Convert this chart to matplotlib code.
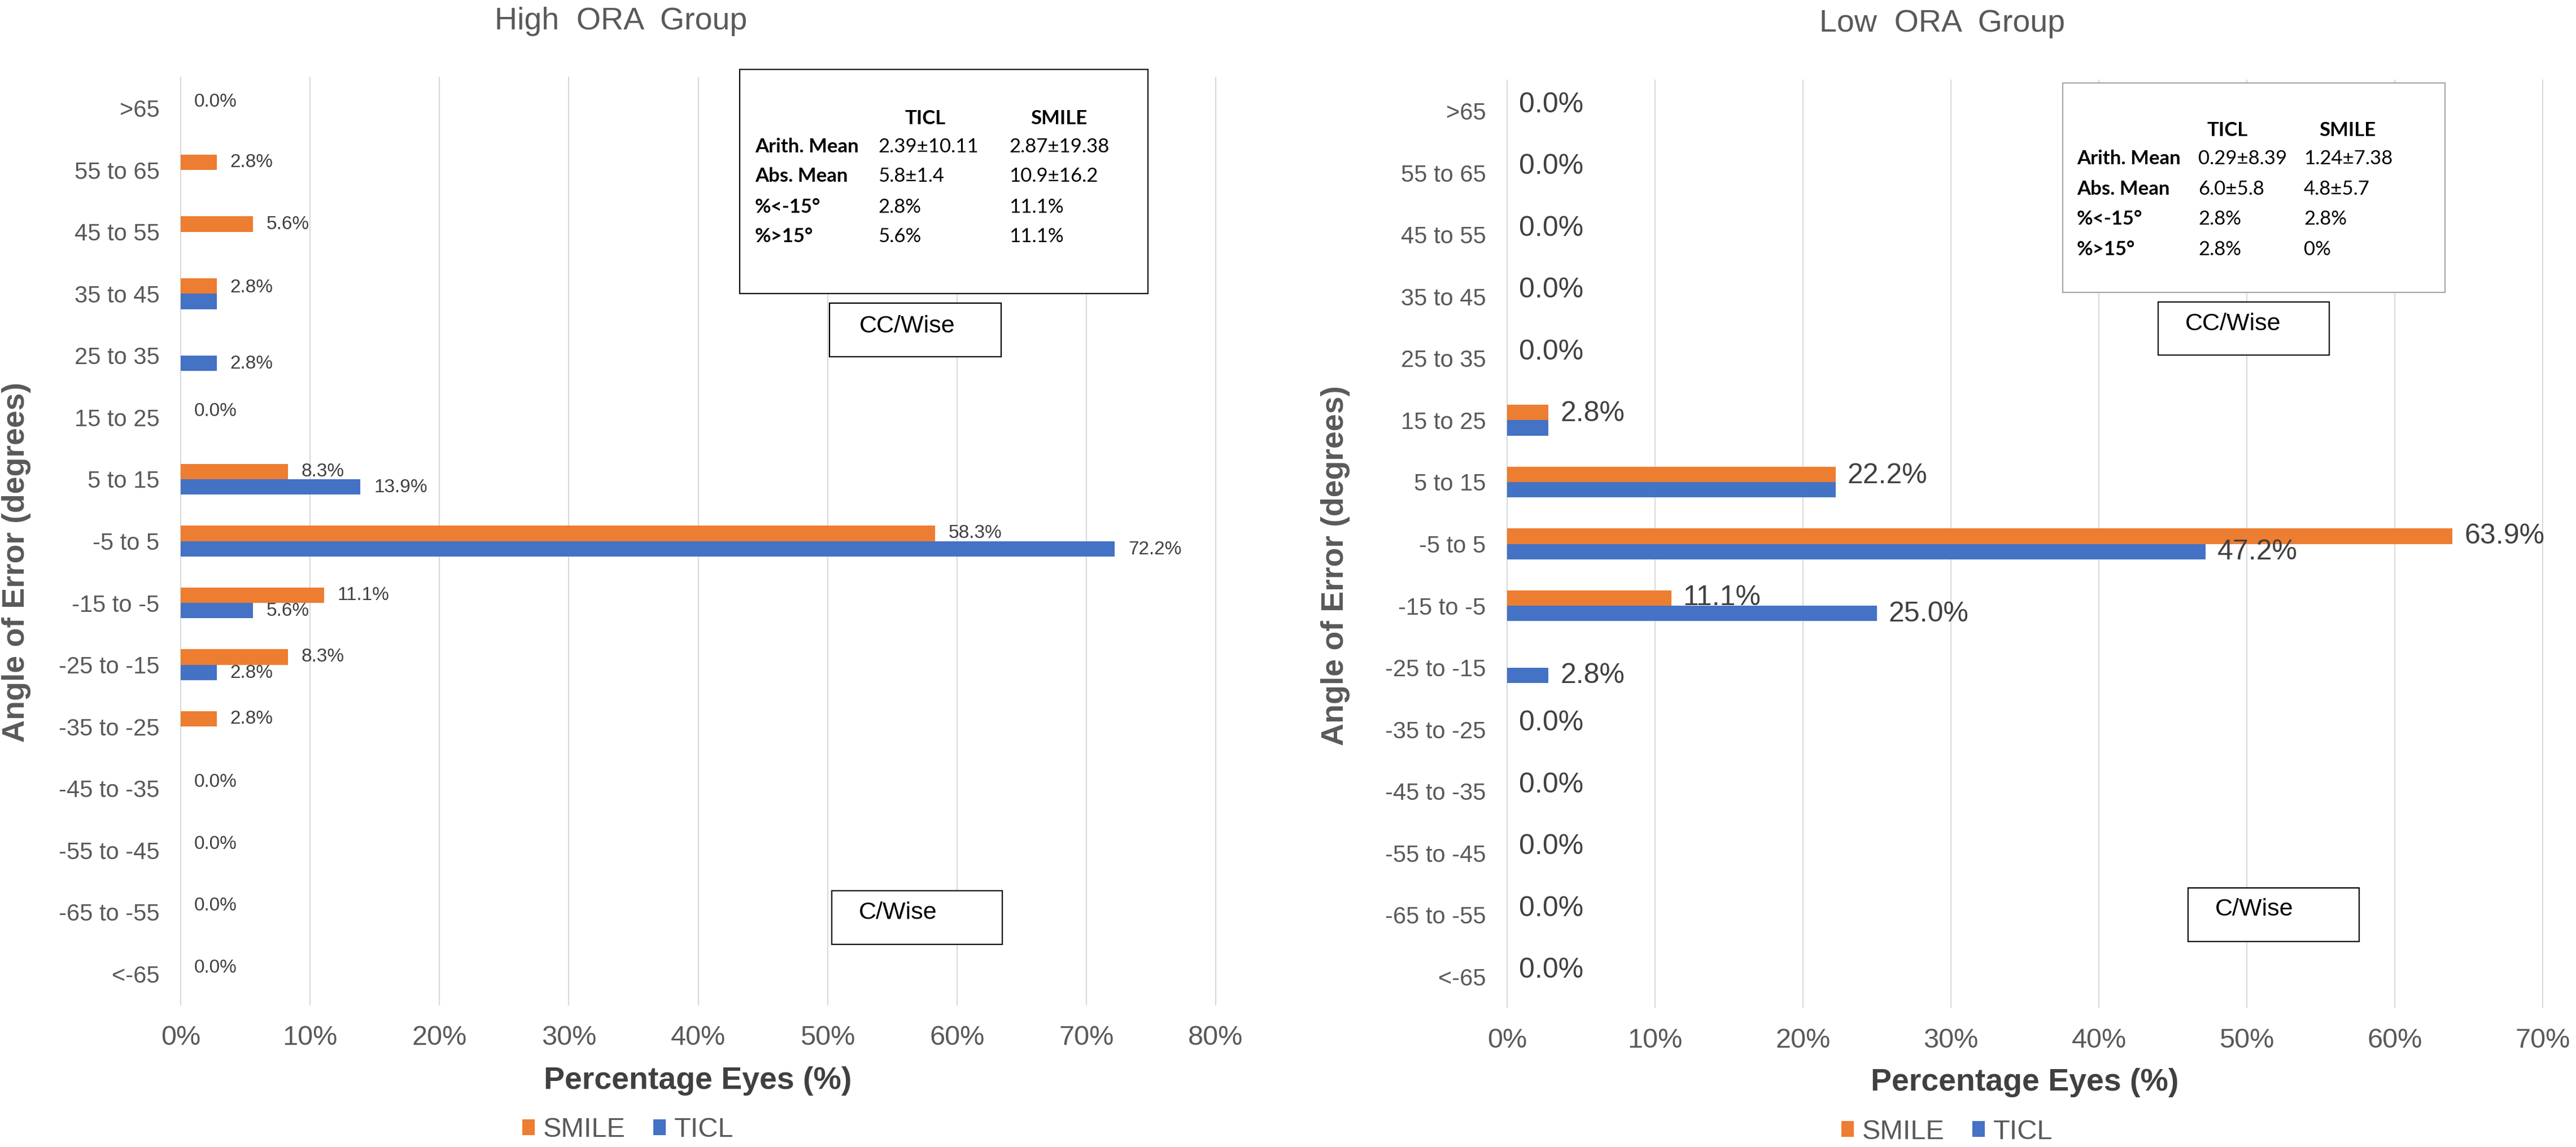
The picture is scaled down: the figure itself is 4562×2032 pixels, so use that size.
import numpy as np
import matplotlib
matplotlib.use("Agg")
from matplotlib import pyplot as plt
from matplotlib.patches import Rectangle

plt.rcParams['font.family'] = ['Liberation Sans', 'DejaVu Sans']

# categories, top to bottom
cats = [">65", "55 to 65", "45 to 55", "35 to 45", "25 to 35", "15 to 25", "5 to 15",
        "-5 to 5", "-15 to -5", "-25 to -15", "-35 to -25", "-45 to -35", "-55 to -45",
        "-65 to -55", "<-65"]

high_smile = [0, 2.8, 5.6, 2.8, 0, 0, 8.3, 58.3, 11.1, 8.3, 2.8, 0, 0, 0, 0]
high_ticl = [0, 0, 0, 2.8, 2.8, 0, 13.9, 72.2, 5.6, 2.8, 0, 0, 0, 0, 0]
low_smile = [0, 0, 0, 0, 0, 2.8, 22.2, 63.9, 11.1, 0, 0, 0, 0, 0, 0]
low_ticl = [0, 0, 0, 0, 0, 2.8, 22.2, 47.2, 25.0, 2.8, 0, 0, 0, 0, 0]

stat_rows = ["Arith. Mean", "Abs. Mean", "%<-15°", "%>15°"]
high_ticl_stats = ["2.39±10.11", "5.8±1.4", "2.8%", "5.6%"]
high_smile_stats = ["2.87±19.38", "10.9±16.2", "11.1%", "11.1%"]
low_ticl_stats = ["0.29±8.39", "6.0±5.8", "2.8%", "2.8%"]
low_smile_stats = ["1.24±7.38", "4.8±5.7", "2.8%", "0%"]

ORANGE = "#ED7D31"
BLUE = "#4472C4"
GRID = "#D9D9D9"
TXT = "#595959"

W, H = 4562, 2032
fig = plt.figure(figsize=(W / 100, H / 100), dpi=100)


def fx(px):
    return px / W


def fy(py):
    return 1 - py / H


def panel(box, smile, ticl, xmax, lab_size, lab_off):
    x0, y0, x1, y1 = box
    ax = fig.add_axes([fx(x0), fy(y1), (x1 - x0) / W, (y1 - y0) / H])
    y = np.arange(len(cats))
    ax.barh(y - 0.125, smile, height=0.25, color=ORANGE, linewidth=0,
            label="SMILE", zorder=3)
    ax.barh(y + 0.125, ticl, height=0.25, color=BLUE, linewidth=0,
            label="TICL", zorder=3)
    ax.set_yticks(y, cats)
    ax.set_ylim(len(cats) - 0.5, -0.5)
    ax.set_xlim(0, xmax)
    ticks = np.arange(0, xmax + 1, 10)
    ax.set_xticks(ticks, [f"{t}%" for t in ticks])
    ax.grid(axis="x", color=GRID, linewidth=1.5, zorder=0)
    ax.set_axisbelow(True)
    for s in ax.spines.values():
        s.set_visible(False)
    ax.tick_params(axis="y", length=0, pad=27, labelsize=30, labelcolor=TXT)
    ax.tick_params(axis="x", length=0, pad=26, labelsize=35, labelcolor=TXT)
    for g in ax.get_xgridlines():
        g.set_clip_on(False)

    for i, (s, t) in enumerate(zip(smile, ticl)):
        kw = dict(xytext=(lab_off, 0), textcoords="offset points", va="center",
                  ha="left", fontsize=lab_size, color="#404040", zorder=4)
        if s == t:
            ax.annotate(f"{s:.1f}%", (s, i - 0.1), **kw)
        else:
            if s > 0:
                ax.annotate(f"{s:.1f}%", (s, i - 0.125), **kw)
            if t > 0:
                ax.annotate(f"{t:.1f}%", (t, i + 0.135), **kw)
    return ax


def label_box(x0, y0, x1, y1, text, tx, ty, edge="black"):
    fig.add_artist(Rectangle((fx(x0), fy(y1)), (x1 - x0) / W, (y1 - y0) / H,
                             transform=fig.transFigure, facecolor="white",
                             edgecolor=edge, linewidth=1.6, zorder=5))
    if text:
        fig.text(fx(tx), fy(ty), text, fontsize=31, ha="left", va="center",
                 color="black", zorder=6)


def stats_box(box, edge, head_x, head_y, row_x, row_ys, col1_x, col2_x, ticl_s, smile_s):
    x0, y0, x1, y1 = box
    label_box(x0, y0, x1, y1, None, 0, 0, edge=edge)
    sf = ['Lato', 'DejaVu Sans']
    fig.text(fx(head_x[0]), fy(head_y), "TICL", family=sf, fontsize=25,
             fontweight="bold", ha="center", va="center", zorder=6)
    fig.text(fx(head_x[1]), fy(head_y), "SMILE", family=sf, fontsize=25,
             fontweight="bold", ha="center", va="center", zorder=6)
    for r, yy, a, b in zip(stat_rows, row_ys, ticl_s, smile_s):
        fig.text(fx(row_x), fy(yy), r, family=sf, fontsize=25, fontweight="bold",
                 ha="left", va="center", zorder=6)
        fig.text(fx(col1_x), fy(yy), a, family=sf, fontsize=25, ha="left",
                 va="center", zorder=6)
        fig.text(fx(col2_x), fy(yy), b, family=sf, fontsize=25, ha="left",
                 va="center", zorder=6)


# left: High ORA
axL = panel((320, 137, 2153, 1780), high_smile, high_ticl, 80, 24, 17)
# right: Low ORA
axR = panel((2669, 142, 4503, 1785), low_smile, low_ticl, 70, 36, 15)

fig.text(fx(1100), fy(38), "High  ORA  Group", fontsize=40, color=TXT, ha="center", va="center")
fig.text(fx(3440), fy(42), "Low  ORA  Group", fontsize=40, color=TXT, ha="center", va="center")

for ax, cx, cy, lx, ly in [(axL, 1236, 1915, 29, 996), (axR, 3586, 1918, 2365, 1002)]:
    fig.text(fx(cx), fy(cy), "Percentage Eyes (%)", fontsize=40, fontweight="bold",
             color="#404040", ha="center", va="center")
    fig.text(fx(lx), fy(ly), "Angle of Error (degrees)", fontsize=40, fontweight="bold",
             color=TXT, ha="center", va="center", rotation=90)

for ax, lx, ly in [(axL, 1112, 2002), (axR, 3448, 2005)]:
    leg = ax.legend(loc="center", bbox_to_anchor=(fx(lx), fy(ly)),
                    bbox_transform=fig.transFigure, ncol=2, frameon=False,
                    fontsize=35, handlelength=0.46, handleheight=0.5,
                    handletextpad=0.3, columnspacing=1.0, borderpad=0)
    for t in leg.get_texts():
        t.set_color(TXT)

stats_box((1310, 123, 2033, 520), "black", (1639, 1875), 210, 1337,
          [260, 312, 367, 419], 1555, 1787, high_ticl_stats, high_smile_stats)
stats_box((3653, 147, 4330, 518), "#A6A6A6", (3945, 4157), 231, 3678,
          [281, 335, 388, 442], 3893, 4080, low_ticl_stats, low_smile_stats)

label_box(1469, 537, 1773, 632, "CC/Wise", 1522, 578)
label_box(1473, 1578, 1775, 1673, "C/Wise", 1521, 1617)
label_box(3822, 535, 4125, 629, "CC/Wise", 3870, 574)
label_box(3875, 1573, 4178, 1668, "C/Wise", 3923, 1611)

fig.savefig("out.png", dpi=100, facecolor="white")
